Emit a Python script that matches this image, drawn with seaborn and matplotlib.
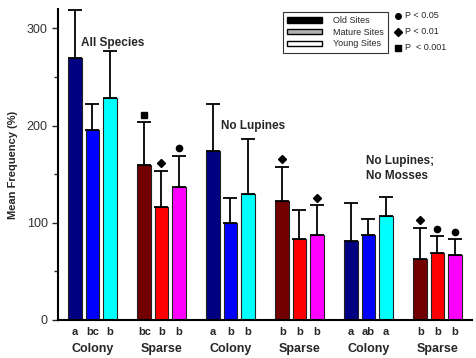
import numpy as np
import pandas as pd
import matplotlib
matplotlib.use("Agg")
import matplotlib.pyplot as plt
import matplotlib.transforms as mtransforms
from matplotlib.patches import Patch
import seaborn as sns

# ---- data -------------------------------------------------------------
group_labels = ["Colony", "Sparse", "Colony", "Sparse", "Colony", "Sparse"]
site_ages = ["Old", "Mature", "Young"]

old_mean = [270, 159.6, 174, 122, 81, 62.4]
mature_mean = [195, 116, 100, 83, 87, 68.5]
young_mean = [228, 136.7, 129.5, 87, 106.5, 66.8]

old_se = [48.6, 43.9, 48.3, 35.5, 39, 32.6]
mature_se = [27, 37.4, 25.7, 30, 17, 17.5]
young_se = [48.5, 32.3, 56.5, 31, 20.3, 16.2]

letters = [
    ["a", "bc", "b"],
    ["bc", "b", "b"],
    ["a", "b", "b"],
    ["b", "b", "b"],
    ["a", "ab", "a"],
    ["b", "b", "b"],
]

# significance symbol above each bar ('' = none)
signif = [
    ["", "", ""],
    ["s", "D", "o"],
    ["", "", ""],
    ["D", "", "D"],
    ["", "", ""],
    ["D", "o", "o"],
]

panel_titles = ["All Species", "No Lupines", "No Lupines;\nNo Mosses"]

colony_colors = ["#000080", "#0000FF", "#00FFFF"]
sparse_colors = ["#720000", "#FF0000", "#FF00FF"]

# ---- table ------------------------------------------------------------
rows = []
means = [old_mean, mature_mean, young_mean]
ses = [old_se, mature_se, young_se]
for g, habitat in enumerate(group_labels):
    cols = colony_colors if habitat == "Colony" else sparse_colors
    for i, age in enumerate(site_ages):
        rows.append(dict(pos=4 * g + i, mean=means[i][g], se=ses[i][g],
                         key=f"{habitat}-{age}", color=cols[i],
                         letter=letters[g][i], sig=signif[g][i]))
df = pd.DataFrame(rows)
palette = dict(zip(df["key"], df["color"]))

# ---- figure -----------------------------------------------------------
sns.set_style("ticks")
plt.rcParams["font.family"] = ["Liberation Sans", "DejaVu Sans"]

fig = plt.figure(figsize=(4.77, 3.58), dpi=100)
ax = fig.add_axes([58 / 477, 1 - 320 / 358, (472 - 58) / 477, (320 - 9) / 358])

sns.barplot(data=df, x="pos", y="mean", hue="key", palette=palette,
            native_scale=True, dodge=False, width=0.8, errorbar=None,
            saturation=1, edgecolor="#222222", linewidth=0.8,
            legend=False, ax=ax)

ax.errorbar(df["pos"], df["mean"],
            yerr=[np.zeros(len(df)), df["se"]],
            fmt="none", ecolor="black", elinewidth=1.3,
            capsize=5, capthick=1.3, zorder=1)

# significance symbols above the error bars
sym_tr = mtransforms.offset_copy(ax.transData, fig=fig, y=5.5, units="points")
for _, r in df.iterrows():
    if r["sig"]:
        ax.plot(r["pos"], r["mean"] + r["se"], marker=r["sig"],
                color="black", markersize=4.5 if r["sig"] != "D" else 4.2,
                linestyle="none", transform=sym_tr, clip_on=False, zorder=5)

ax.set_xlim(-1, 23)
ax.set_ylim(0, 320)
ax.set_yticks([0, 100, 200, 300])
ax.set_yticks([50, 150, 250], minor=True)
ax.tick_params(axis="y", which="major", length=4, width=1, labelsize=9,
               labelcolor="#333333", direction="out")
ax.tick_params(axis="y", which="minor", length=3, width=1, direction="out")

ax.set_xticks(df["pos"])
ax.set_xticklabels(df["letter"], fontsize=8, fontweight="bold")
ax.tick_params(axis="x", length=0, pad=5)
ax.set_xlabel("")
ax.set_ylabel("Mean Frequency (%)", fontsize=8, fontweight="bold", labelpad=6)

for s in ["top", "right"]:
    ax.spines[s].set_visible(False)
for s in ["left", "bottom"]:
    ax.spines[s].set_linewidth(1.5)
    ax.spines[s].set_color("black")

# habitat labels under each group
lab_tr = mtransforms.blended_transform_factory(ax.transData, ax.transAxes)
for g, habitat in enumerate(group_labels):
    ax.text(4 * g + 1, -29 / 311, habitat, transform=lab_tr, ha="center",
            va="center", fontsize=9, fontweight="bold")

# panel titles
ax.text(0.35, 285, panel_titles[0], fontsize=8.5, fontweight="bold",
        ha="left", va="center")
ax.text(8.45, 200, panel_titles[1], fontsize=8.5, fontweight="bold",
        ha="left", va="center")
ax.text(16.85, 156, panel_titles[2], fontsize=8.5, fontweight="bold",
        ha="left", va="center", linespacing=1.3)

# legend for site age
handles = [Patch(facecolor="black", edgecolor="black", label="Old Sites"),
           Patch(facecolor="#b4b4b4", edgecolor="black", label="Mature Sites"),
           Patch(facecolor="white", edgecolor="black", label="Young Sites")]
leg = ax.legend(handles=handles, loc="upper left",
                bbox_to_anchor=(283 / 477, 1 - 12 / 358),
                bbox_transform=fig.transFigure, fontsize=6.5,
                handlelength=3.9, handleheight=0.55, labelspacing=0.3,
                handletextpad=1.2, borderpad=0.45, borderaxespad=0,
                fancybox=False, frameon=True)
leg.get_frame().set_edgecolor("black")
leg.get_frame().set_linewidth(0.8)

# key for significance symbols
sig_key = [("o", "P < 0.05", 16), ("D", "P < 0.01", 31.5), ("s", "P  < 0.001", 48)]
for m, txt, ypix in sig_key:
    yf = 1 - ypix / 358
    ax.plot(398 / 477, yf, marker=m, color="black", markersize=4 if m != "D" else 3.8,
            linestyle="none", transform=fig.transFigure, clip_on=False)
    fig.text(405 / 477, yf, txt, fontsize=6.5, ha="left", va="center")

fig.savefig("out.png", dpi=100)
